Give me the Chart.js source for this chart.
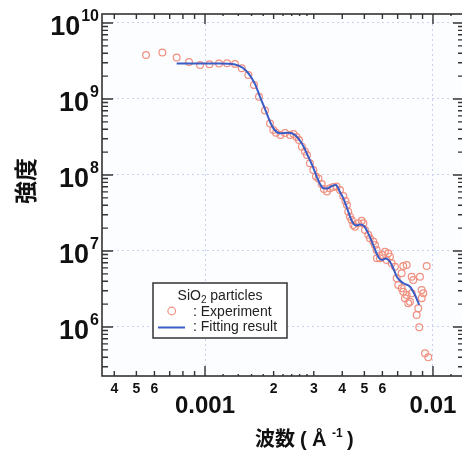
<!DOCTYPE html>
<html>
<head>
<meta charset="utf-8">
<script src="https://cdn.jsdelivr.net/npm/chart.js@4.4.1/dist/chart.umd.min.js"></script>
<style>
    html, body { margin: 0; padding: 0; background: #fff; overflow: hidden; }
    #wrap { width: 470px; height: 452px; position: relative; }
</style>
</head>
<body>
<div id="wrap"><canvas id="saxsChart"></canvas></div>
<script>
// Experiment: wave number (1/Å) and intensity
const expQ = [5.51e-4, 6.50e-4, 7.51e-4, 8.51e-4, 9.51e-4, 1.046e-3, 1.152e-3, 1.249e-3, 1.354e-3, 1.449e-3,
    1.549e-3, 1.640e-3, 1.725e-3, 1.833e-3, 1.928e-3, 1.993e-3, 2.048e-3, 2.143e-3, 2.243e-3, 2.359e-3,
    2.444e-3, 2.519e-3, 2.584e-3, 2.662e-3, 2.744e-3, 2.801e-3, 2.886e-3, 2.985e-3, 3.067e-3, 3.146e-3,
    3.249e-3, 3.325e-3, 3.428e-3, 3.533e-3, 3.653e-3, 3.780e-3, 3.909e-3, 4.041e-3, 4.131e-3, 4.195e-3,
    4.250e-3, 4.325e-3, 4.399e-3, 4.471e-3, 4.548e-3, 4.702e-3, 4.867e-3, 4.946e-3, 5.032e-3, 5.201e-3,
    5.292e-3, 5.471e-3, 5.566e-3, 5.662e-3, 5.679e-3, 5.853e-3, 6.016e-3, 6.157e-3, 6.263e-3, 6.365e-3,
    6.476e-3, 6.589e-3, 6.812e-3, 6.930e-3, 7.043e-3, 7.288e-3, 7.288e-3, 7.407e-3, 7.407e-3, 7.536e-3,
    7.666e-3, 7.666e-3, 7.791e-3, 7.925e-3, 8.062e-3, 8.062e-3, 8.194e-3, 8.480e-3, 8.617e-3, 8.705e-3,
    8.770e-3, 8.920e-3, 8.920e-3, 9.066e-3, 9.225e-3, 9.384e-3, 9.537e-3];
const expI = [3.79e9, 4.09e9, 3.52e9, 3.07e9, 2.80e9, 2.86e9, 2.93e9, 2.95e9, 2.89e9, 2.54e9,
    2.07e9, 1.53e9, 1.07e9, 7.06e8, 4.76e8, 3.91e8, 3.60e8, 3.36e8, 3.57e8, 3.36e8,
    3.46e8, 3.16e8, 2.89e8, 2.36e8, 2.03e8, 1.83e8, 1.43e8, 1.16e8, 9.55e7, 8.99e7,
    7.62e7, 6.55e7, 6.07e7, 6.68e7, 6.95e7, 7.06e7, 6.35e7, 5.30e7, 4.55e7, 4.03e7,
    3.29e7, 2.83e7, 2.56e7, 2.20e7, 2.09e7, 2.31e7, 2.50e7, 2.31e7, 1.89e7, 1.63e7,
    1.47e7, 1.33e7, 1.20e7, 1.03e7, 8.01e6, 8.01e6, 8.85e6, 9.79e6, 7.62e6, 9.33e6,
    8.42e6, 6.89e6, 6.21e6, 4.38e6, 3.57e6, 5.09e6, 3.23e6, 6.35e6, 2.91e6, 2.39e6,
    6.55e6, 2.64e6, 2.05e6, 2.15e6, 4.59e6, 2.77e6, 4.15e6, 1.44e6, 1.76e6, 9.91e5,
    4.59e6, 3.07e6, 2.39e6, 2.77e6, 4.51e5, 6.35e6, 3.99e5];

// Fitting result
const fitQ = [7.51e-4, 9.51e-4, 1.164e-3, 1.354e-3, 1.468e-3, 1.560e-3, 1.657e-3, 1.743e-3, 1.865e-3, 1.948e-3,
    2.028e-3, 2.133e-3, 2.312e-3, 2.481e-3, 2.656e-3, 2.838e-3, 2.977e-3, 3.090e-3, 3.195e-3, 3.303e-3,
    3.428e-3, 3.570e-3, 3.755e-3, 3.909e-3, 4.043e-3, 4.183e-3, 4.325e-3, 4.457e-3, 4.596e-3, 4.785e-3,
    4.982e-3, 5.187e-3, 5.402e-3, 5.623e-3, 5.797e-3, 5.975e-3, 6.222e-3, 6.478e-3, 6.746e-3, 6.954e-3,
    7.410e-3, 7.929e-3, 8.337e-3, 8.708e-3];
const fitI = [2.93e9, 2.93e9, 2.93e9, 2.84e9, 2.56e9, 2.13e9, 1.57e9, 1.07e9, 6.48e8, 4.69e8,
    3.85e8, 3.54e8, 3.60e8, 3.36e8, 2.61e8, 1.74e8, 1.27e8, 9.50e7, 7.62e7, 6.68e7,
    6.65e7, 7.06e7, 7.38e7, 5.97e7, 4.93e7, 3.79e7, 2.84e7, 2.34e7, 2.17e7, 2.23e7,
    2.13e7, 1.73e7, 1.31e7, 9.70e6, 8.09e6, 7.62e6, 7.97e6, 7.23e6, 5.62e6, 4.55e6,
    3.76e6, 3.39e6, 2.64e6, 1.95e6];

// Tick labels
const xMinorTicks = [0.0004, 0.0005, 0.0006, 0.002, 0.003, 0.004, 0.005, 0.006];
const xMinorLabels = ['4', '5', '6', '2', '3', '4', '5', '6'];
const xMajorTicks = [0.001, 0.01];
const xMajorLabels = ['0.001', '0.01'];
const yExponents = [6, 7, 8, 9, 10];

const X_MIN = 3.533e-4, X_MAX = 1.368e-2;
const Y_MIN = 2.266e5, Y_MAX = 1.313e10;

const SANS = '"Liberation Sans", Arial, sans-serif';
const CJK = '"Noto Sans CJK JP", "Noto Sans CJK SC", sans-serif';

// tick marks pointing inwards on all four sides, labels, titles and the legend
const framePlugin = {
    id: 'frame',
    beforeDraw(chart) {
        const { ctx, chartArea: a } = chart;
        ctx.save();
        ctx.fillStyle = '#fcfdfe';
        ctx.fillRect(a.left, a.top, a.right - a.left, a.bottom - a.top);
        ctx.restore();
    },
    afterDraw(chart) {
        const { ctx, chartArea: a, scales: { x, y } } = chart;
        ctx.save();
        ctx.strokeStyle = '#333';
        ctx.lineWidth = 1.6;
        ctx.strokeRect(a.left, a.top, a.right - a.left, a.bottom - a.top);

        ctx.lineWidth = 1.4;
        // x ticks (bottom and top)
        const xMant = [1, 1.2, 1.4, 1.6, 1.8, 2, 2.2, 2.4, 2.6, 2.8, 3, 4, 5, 6, 7, 8, 9];
        for (let e = -4; e <= -2; e++) {
            xMant.forEach(m => {
                const v = m * Math.pow(10, e);
                if (v < X_MIN || v > X_MAX) return;
                const px = x.getPixelForValue(v);
                const len = m === 1 ? 10 : (Number.isInteger(m) ? 5 : 2);
                ctx.beginPath();
                ctx.moveTo(px, a.bottom); ctx.lineTo(px, a.bottom - len);
                ctx.moveTo(px, a.top); ctx.lineTo(px, a.top + len);
                ctx.stroke();
            });
        }
        // y ticks (left and right)
        for (let e = 5; e <= 10; e++) {
            for (let m = 1; m <= 9; m++) {
                const v = m * Math.pow(10, e);
                if (v < Y_MIN || v > Y_MAX) continue;
                const py = y.getPixelForValue(v);
                const len = m === 1 ? 11 : 6;
                ctx.beginPath();
                ctx.moveTo(a.left, py); ctx.lineTo(a.left + len, py);
                ctx.moveTo(a.right, py); ctx.lineTo(a.right - len, py);
                ctx.stroke();
            }
        }

        ctx.fillStyle = '#111';
        // y labels 10^n
        yExponents.forEach(e => {
            const py = y.getPixelForValue(Math.pow(10, e));
            ctx.textAlign = 'right';
            ctx.textBaseline = 'alphabetic';
            ctx.font = 'bold 16px ' + SANS;
            const ew = ctx.measureText(String(e)).width;
            ctx.fillText(String(e), a.left - 3, py - 2);
            ctx.font = 'bold 27px ' + SANS;
            ctx.fillText('10', a.left - 3 - ew - 1, py + 12);
        });
        // x labels
        ctx.textAlign = 'center';
        ctx.font = 'bold 14px ' + SANS;
        xMinorTicks.forEach((v, i) => ctx.fillText(xMinorLabels[i], x.getPixelForValue(v), a.bottom + 17));
        ctx.font = 'bold 24px ' + SANS;
        xMajorTicks.forEach((v, i) => ctx.fillText(xMajorLabels[i], x.getPixelForValue(v), a.bottom + 37));

        // axis titles
        ctx.font = 'bold 23px ' + CJK;
        ctx.save();
        ctx.translate(25, 181);
        ctx.rotate(-Math.PI / 2);
        ctx.textBaseline = 'middle';
        ctx.fillText('強度', 0, 0);
        ctx.restore();

        ctx.textAlign = 'left';
        ctx.textBaseline = 'alphabetic';
        ctx.font = 'bold 20px ' + CJK;
        ctx.fillText('波数', 255, 446);
        ctx.font = 'bold 20px ' + SANS;
        ctx.fillText('(', 300, 446);
        ctx.fillText('Å', 312, 446);
        ctx.font = 'bold 12px ' + SANS;
        ctx.fillText('-1', 332, 437);
        ctx.font = 'bold 20px ' + SANS;
        ctx.fillText(')', 347, 446);

        // legend
        const [fitDs, expDs] = chart.data.datasets;
        ctx.fillStyle = '#fff';
        ctx.fillRect(153, 283, 134, 55);
        ctx.strokeStyle = '#333';
        ctx.lineWidth = 1.5;
        ctx.strokeRect(153, 283, 134, 55);

        ctx.fillStyle = '#222';
        ctx.font = '14px ' + SANS;
        ctx.textAlign = 'left';
        const t1 = 'SiO', t2 = '2', t3 = ' particles';
        const w1 = ctx.measureText(t1).width, w3 = ctx.measureText(t3).width;
        ctx.font = '10px ' + SANS;
        const w2 = ctx.measureText(t2).width;
        let tx = 220 - (w1 + w2 + w3) / 2;
        ctx.font = '14px ' + SANS;
        ctx.fillText(t1, tx, 299.5);
        ctx.font = '10px ' + SANS;
        ctx.fillText(t2, tx + w1, 302.5);
        ctx.font = '14px ' + SANS;
        ctx.fillText(t3, tx + w1 + w2, 299.5);

        ctx.fillText(': ' + expDs.label, 193, 315.5);
        ctx.fillText(': ' + fitDs.label, 193, 330.5);

        ctx.strokeStyle = expDs.borderColor;
        ctx.lineWidth = expDs.borderWidth;
        ctx.beginPath();
        ctx.arc(171.7, 311, 3.8, 0, Math.PI * 2);
        ctx.stroke();

        ctx.strokeStyle = fitDs.borderColor;
        ctx.lineWidth = fitDs.borderWidth;
        ctx.beginPath();
        ctx.moveTo(158, 327.5); ctx.lineTo(185, 327.5);
        ctx.stroke();
        ctx.restore();
    }
};

// grid lines only at decades inside the axis range
const decadeTicks = (lo, hi) => scale => {
    const t = [];
    for (let e = lo; e <= hi; e++) {
        const v = Math.pow(10, e);
        if (v >= scale.min && v <= scale.max) t.push({ value: v });
    }
    scale.ticks = t;
};

new Chart(document.getElementById('saxsChart'), {
    type: 'scatter',
    data: {
        datasets: [
            {
                label: 'Fitting result',
                data: fitQ.map((q, i) => ({ x: q, y: fitI[i] })),
                showLine: true,
                borderColor: '#3a5cc4',
                borderWidth: 2,
                pointRadius: 0,
                cubicInterpolationMode: 'monotone',
                order: 0
            },
            {
                label: 'Experiment',
                data: expQ.map((q, i) => ({ x: q, y: expI[i] })),
                pointStyle: 'circle',
                pointRadius: 3.4,
                borderColor: '#f09080',
                backgroundColor: 'rgba(0,0,0,0)',
                borderWidth: 1.2,
                order: 1
            }
        ]
    },
    options: {
        responsive: true,
        maintainAspectRatio: false,
        animation: false,
        layout: { padding: { left: 102, top: 14, right: 6, bottom: 76 } },
        plugins: { legend: { display: false }, tooltip: { enabled: false } },
        scales: {
            x: {
                type: 'logarithmic',
                min: X_MIN,
                max: X_MAX,
                afterBuildTicks: decadeTicks(-4, -2),
                afterFit: s => { s.height = 0; },
                ticks: { display: false },
                grid: { color: '#c9d0f0', lineWidth: 1, drawTicks: false },
                border: { display: false, dash: [2, 3] }
            },
            y: {
                type: 'logarithmic',
                min: Y_MIN,
                max: Y_MAX,
                afterBuildTicks: decadeTicks(5, 10),
                afterFit: s => { s.width = 0; },
                ticks: { display: false },
                grid: { color: '#c9d0f0', lineWidth: 1, drawTicks: false },
                border: { display: false, dash: [2, 3] }
            }
        }
    },
    plugins: [framePlugin]
});
</script>
</body>
</html>
